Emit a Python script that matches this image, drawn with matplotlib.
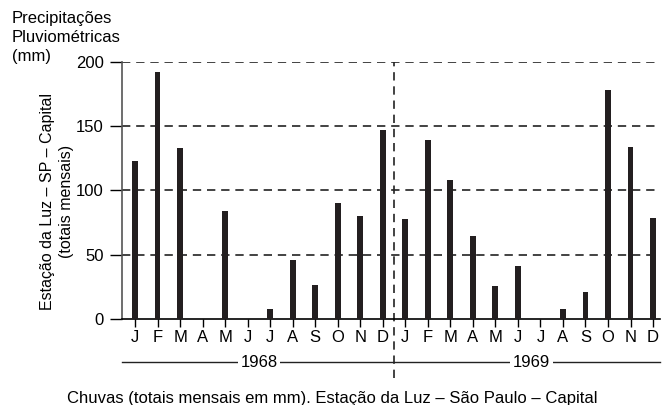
import numpy as np
import matplotlib.pyplot as plt

plt.rcParams['font.family'] = ['Liberation Sans', 'DejaVu Sans']

months = ['J', 'F', 'M', 'A', 'M', 'J', 'J', 'A', 'S', 'O', 'N', 'D']
chuva_1968 = [123, 192, 133, 0, 84, 0, 8, 46, 27, 90, 80, 147]
chuva_1969 = [78, 139, 108, 65, 26, 41, 0, 8, 21, 178, 134, 79]
years = ['1968', '1969']

vals = chuva_1968 + chuva_1969
labels = months + months
x = np.arange(len(vals))

fig = plt.figure(figsize=(6.64, 4.05), dpi=100)
ax = fig.add_axes([0.1837, 0.2116, 0.8103, 0.6361])

for yv in [50, 100, 150, 200]:
    ax.axhline(yv, color='#222222', lw=1.2, ls=(0, (5, 3.5)), zorder=1)

ax.bar(x, vals, width=0.26, color='#231f20', zorder=3)

ax.set_xlim(-0.58, 23.31)
ax.set_ylim(0, 200)
ax.set_yticks([0, 50, 100, 150, 200])
ax.set_xticks(x)
ax.set_xticklabels(labels)
ax.tick_params(axis='x', length=6, width=1, pad=1.5, labelsize=12)
ax.tick_params(axis='y', length=9, width=1, pad=4, labelsize=12)

for s in ['top', 'right']:
    ax.spines[s].set_visible(False)
ax.spines['left'].set_color('#555555')
ax.spines['left'].set_linewidth(1.2)
ax.spines['bottom'].set_linewidth(1.2)

# divider between years
ax.plot([11.5, 11.5], [-45.5, 200], color='#222222', lw=1.2, ls=(0, (5, 3.5)),
        clip_on=False, zorder=2)

# year bars below axis
ax.plot([-0.58, 23.31], [-33.3, -33.3], color='#222222', lw=1.0, clip_on=False)
ax.text(5.5, -33.3, years[0], ha='center', va='center', fontsize=12,
        bbox=dict(facecolor='white', edgecolor='none', pad=2))
ax.text(17.6, -33.3, years[1], ha='center', va='center', fontsize=12,
        bbox=dict(facecolor='white', edgecolor='none', pad=2))

fig.text(12 / 664, 1 - 19 / 405, 'Precipitações', ha='left', va='center', fontsize=12)
fig.text(12 / 664, 1 - 38 / 405, 'Pluviométricas', ha='left', va='center', fontsize=12)
fig.text(12 / 664, 1 - 56 / 405, '(mm)', ha='left', va='center', fontsize=12)
fig.text(57 / 664, 1 - 201 / 405, 'Estação da Luz – SP – Capital\n(totais mensais)',
         ha='center', va='center', rotation=90, fontsize=11.5, linespacing=1.3)
fig.text(332 / 664, 1 - 398 / 405,
         'Chuvas (totais mensais em mm). Estação da Luz – São Paulo – Capital',
         ha='center', va='center', fontsize=12)

fig.savefig('out.png', dpi=100)
